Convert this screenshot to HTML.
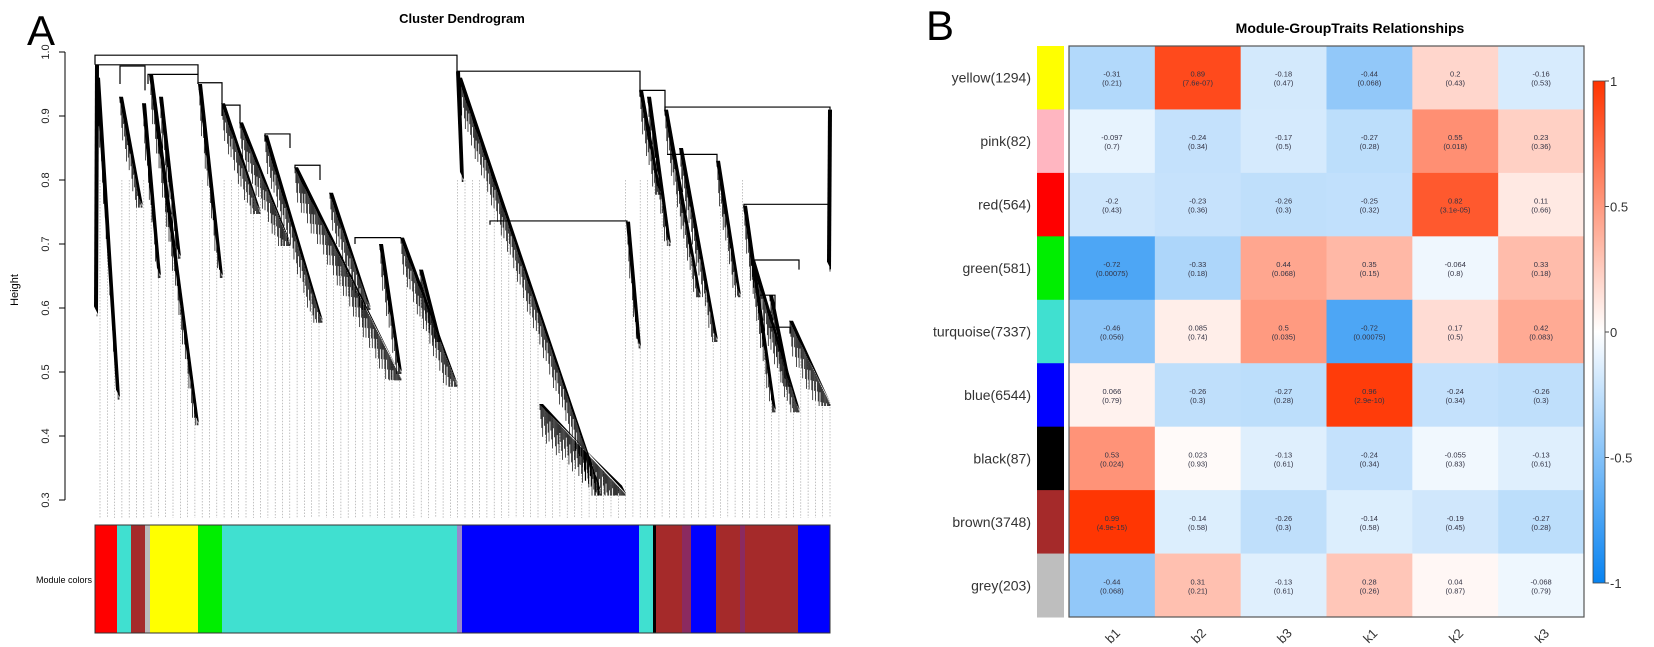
<!DOCTYPE html>
<html><head><meta charset="utf-8"><style>
html,body{margin:0;padding:0;background:#fff;}
svg{display:block;font-family:"Liberation Sans",sans-serif;}
</style></head><body>
<svg id="fig" width="1654" height="647" viewBox="0 0 1654 647">
<text x="27" y="45" font-size="42">A</text>
<text x="462" y="23" font-size="13" font-weight="bold" text-anchor="middle">Cluster Dendrogram</text>
<text transform="translate(18,290) rotate(-90)" font-size="11" text-anchor="middle">Height</text>
<text x="92" y="583" font-size="9" text-anchor="end">Module colors</text>
<g id="dendro"></g>
<g id="yaxis"></g>
<g id="colorbar"></g>
<text x="926" y="40" font-size="42">B</text>
<text x="1350" y="33" font-size="14" font-weight="bold" text-anchor="middle">Module-GroupTraits Relationships</text>
<g id="heat"></g>
<g id="legend"></g>
</svg>
<script>
const NS="http://www.w3.org/2000/svg";
// ---- Dendrogram data ----
const yTicks=[0.3,0.4,0.5,0.6,0.7,0.8,0.9,1.0];
const merges=[[95,457,0.995,0.98,0.97],[95,198,0.98,0.98,0.965],[120,145,0.978,0.95,0.94],[148,198,0.965,0.95,0.95],[198,222,0.952,0.95,0.92],[222,240,0.917,0.9,0.89],[265,290,0.872,0.86,0.85],[295,320,0.823,0.82,0.8],[355,401,0.71,0.7,0.71],[457,640,0.97,0.97,0.94],[490,627,0.736,0.73,0.735],[640,665,0.94,0.93,0.91],[665,830,0.914,0.91,0.91],[667,717,0.84,0.84,0.83],[744,830,0.762,0.76,0.66],[752,799,0.675,0.67,0.66],[760,775,0.62,0.62,0.6],[770,790,0.57,0.57,0.56]];
const fans=[[96,0.98,97,0.59],[97,0.96,119,0.46],[120,0.93,142,0.76],[143,0.92,160,0.65],[150,0.965,198,0.42],[160,0.93,180,0.68],[199,0.95,222,0.65],[222,0.92,260,0.75],[240,0.89,290,0.70],[265,0.87,322,0.58],[295,0.82,401,0.49],[330,0.78,370,0.60],[380,0.70,401,0.5],[401,0.71,457,0.48],[420,0.66,440,0.55],[457,0.97,463,0.80],[459,0.96,601,0.31],[540,0.45,625,0.31],[627,0.735,640,0.54],[640,0.94,660,0.78],[648,0.93,670,0.70],[665,0.91,700,0.62],[680,0.85,717,0.55],[717,0.83,740,0.62],[744,0.76,775,0.44],[752,0.675,799,0.44],[770,0.62,790,0.48],[790,0.58,830,0.45],[829,0.91,830,0.66]];
const moduleSegs=[[95,117,"#ff0000"],[117,131,"#40e0d0"],[131,145,"#a52a2a"],[145,150,"#bbbbbb"],[150,198,"#ffff00"],[198,222,"#00ee00"],[222,457,"#40e0d0"],[457,462,"#9988cc"],[462,639,"#0000ff"],[639,653,"#40e0d0"],[653,656,"#000000"],[656,682,"#a52a2a"],[682,691,"#8b2a60"],[691,716,"#0000ff"],[716,740,"#a52a2a"],[740,745,"#8b2a60"],[745,798,"#a52a2a"],[798,830,"#0000ff"]];
const yH=h=>52+(1-h)*640;
function el(tag,attrs,parent){const e=document.createElementNS(NS,tag);for(const k in attrs)e.setAttribute(k,attrs[k]);parent.appendChild(e);return e;}
const D=document.getElementById('dendro');
for(let x=100;x<=830;x+=7.3){
  let top=yH(0.8);
  fans.forEach(f=>{if(x>=f[0]&&x<=f[2]){const t=(x-f[0])/Math.max(1,f[2]-f[0]);const y=yH(f[1]+(f[3]-f[1])*t);if(y>top)top=y;}});
  const l=el('line',{x1:x,x2:x,y1:top,y2:518,stroke:'#999','stroke-width':0.6,'stroke-dasharray':'1.5,1.5'},D);
  
  
}
merges.forEach(m=>{
  const p=el('path',{d:`M${m[0]},${yH(m[3])}V${yH(m[2])}H${m[1]}V${yH(m[4])}`,fill:'none',stroke:'#000','stroke-width':1.2},D);
  
  
});
fans.forEach(f=>{
  const x0=f[0],y0=yH(f[1]),x1=f[2],y1=yH(f[3]);
  const g=el('g',{},D);
  
  
  el('polygon',{points:`${x0-1},${y0} ${x0+3},${y0} ${x1+1},${y1} ${x1-3},${y1-8}`,fill:'#000'},g);
  const n=Math.max(3,Math.round((x1-x0)/0.9));
  for(let i=0;i<=n;i++){const t=i/n;const x=x0+(x1-x0)*t,y=y0+(y1-y0)*t;const d=6+((i*37)%29);
    el('line',{x1:x,x2:x,y1:y,y2:Math.min(y+d,yH(f[3])+2),stroke:'#000','stroke-width':0.7},g);}
});
const YA=document.getElementById('yaxis');
el('line',{x1:65,x2:65,y1:yH(1),y2:yH(0.3),stroke:'#000','stroke-width':1},YA);
yTicks.forEach(v=>{el('line',{x1:59,x2:65,y1:yH(v),y2:yH(v),stroke:'#000'},YA);
  const t=el('text',{transform:`translate(49,${yH(v)}) rotate(-90)`,'font-size':11,'text-anchor':'middle',fill:'#222'},YA);t.textContent=v.toFixed(1);
  
  });
const CB=document.getElementById('colorbar');
moduleSegs.forEach(s=>{const r=el('rect',{x:s[0],y:525,width:s[1]-s[0],height:108,fill:s[2]},CB);
  
  });
el('rect',{x:95,y:525,width:735,height:108,fill:'none',stroke:'#333','stroke-width':1},CB);

// ---- Heatmap data ----
const modules=["yellow(1294)","pink(82)","red(564)","green(581)","turquoise(7337)","blue(6544)","black(87)","brown(3748)","grey(203)"];
const moduleColors=["#ffff00","#ffb6c1","#ff0000","#00ee00","#40e0d0","#0000ff","#000000","#a52a2a","#bebebe"];
const traits=["b1","b2","b3","k1","k2","k3"];
const corr=[[-0.31,0.89,-0.18,-0.44,0.2,-0.16],[-0.097,-0.24,-0.17,-0.27,0.55,0.23],[-0.2,-0.23,-0.26,-0.25,0.82,0.11],[-0.72,-0.33,0.44,0.35,-0.064,0.33],[-0.46,0.085,0.5,-0.72,0.17,0.42],[0.066,-0.26,-0.27,0.96,-0.24,-0.26],[0.53,0.023,-0.13,-0.24,-0.055,-0.13],[0.99,-0.14,-0.26,-0.14,-0.19,-0.27],[-0.44,0.31,-0.13,0.28,0.04,-0.068]];
const pvals=[["0.21","7.6e-07","0.47","0.068","0.43","0.53"],["0.7","0.34","0.5","0.28","0.018","0.36"],["0.43","0.36","0.3","0.32","3.1e-05","0.66"],["0.00075","0.18","0.068","0.15","0.8","0.18"],["0.056","0.74","0.035","0.00075","0.5","0.083"],["0.79","0.3","0.28","2.9e-10","0.34","0.3"],["0.024","0.93","0.61","0.34","0.83","0.61"],["4.9e-15","0.58","0.3","0.58","0.45","0.28"],["0.068","0.21","0.61","0.26","0.87","0.79"]];
const legendTicks=[1,0.5,0,-0.5,-1];
const hx0=1069,hx1=1584,hy0=46,hy1=617;
const cw=(hx1-hx0)/traits.length,rh=(hy1-hy0)/modules.length;
function col(v){const neg=[8,131,241],pos=[255,52,0];const c=v<0?neg:pos;const t=Math.min(1,Math.abs(v));
  return `rgb(${c.map(k=>Math.round(255+(k-255)*t)).join(',')})`;}
const H=document.getElementById('heat');
modules.forEach((m,i)=>{const y=hy0+i*rh;
  const s=el('rect',{x:1037,y:y,width:27,height:rh+0.5,fill:moduleColors[i]},H);
  
  
  const t=el('text',{x:1031,y:y+rh/2+5,'font-size':14,'text-anchor':'end',fill:'#333'},H);t.textContent=m;
  
  
  traits.forEach((tr,j)=>{const x=hx0+j*cw;
    const r=el('rect',{x:x,y:y,width:cw+0.5,height:rh+0.5,fill:col(corr[i][j])},H);
    
    
    const a=el('text',{x:x+cw/2,y:y+rh/2-1,'font-size':7.5,'text-anchor':'middle',fill:'#334'},H);a.textContent=corr[i][j];
    
    
    const b=el('text',{x:x+cw/2,y:y+rh/2+8,'font-size':7.5,'text-anchor':'middle',fill:'#334'},H);b.textContent='('+pvals[i][j]+')';
    
    });
});
el('rect',{x:hx0,y:hy0,width:hx1-hx0,height:hy1-hy0,fill:'none',stroke:'#555','stroke-width':1.2},H);
traits.forEach((tr,j)=>{const x=hx0+j*cw+cw/2;
  const t=el('text',{transform:`translate(${x+4},${hy1+22}) rotate(-45)`,'font-size':13,'text-anchor':'middle',fill:'#333'},H);t.textContent=tr;
  
  });
const L=document.getElementById('legend');
const defs=el('defs',{},L);const gr=el('linearGradient',{id:'lg',x1:0,y1:0,x2:0,y2:1},defs);
[[0,1],[0.5,0],[1,-1]].forEach(s=>el('stop',{offset:s[0],'stop-color':col(s[1])},gr));
const ly0=81,ly1=583;const ly=v=>ly0+(1-v)/2*(ly1-ly0);
el('rect',{x:1593,y:ly0,width:12,height:ly1-ly0,fill:'url(#lg)',stroke:'#444','stroke-width':0.8},L);
legendTicks.forEach(v=>{el('line',{x1:1605,x2:1609,y1:ly(v),y2:ly(v),stroke:'#444'},L);
  const t=el('text',{x:1610,y:ly(v)+5,'font-size':13,fill:'#333'},L);t.textContent=String(v);
  
  });
</script>
</body></html>
